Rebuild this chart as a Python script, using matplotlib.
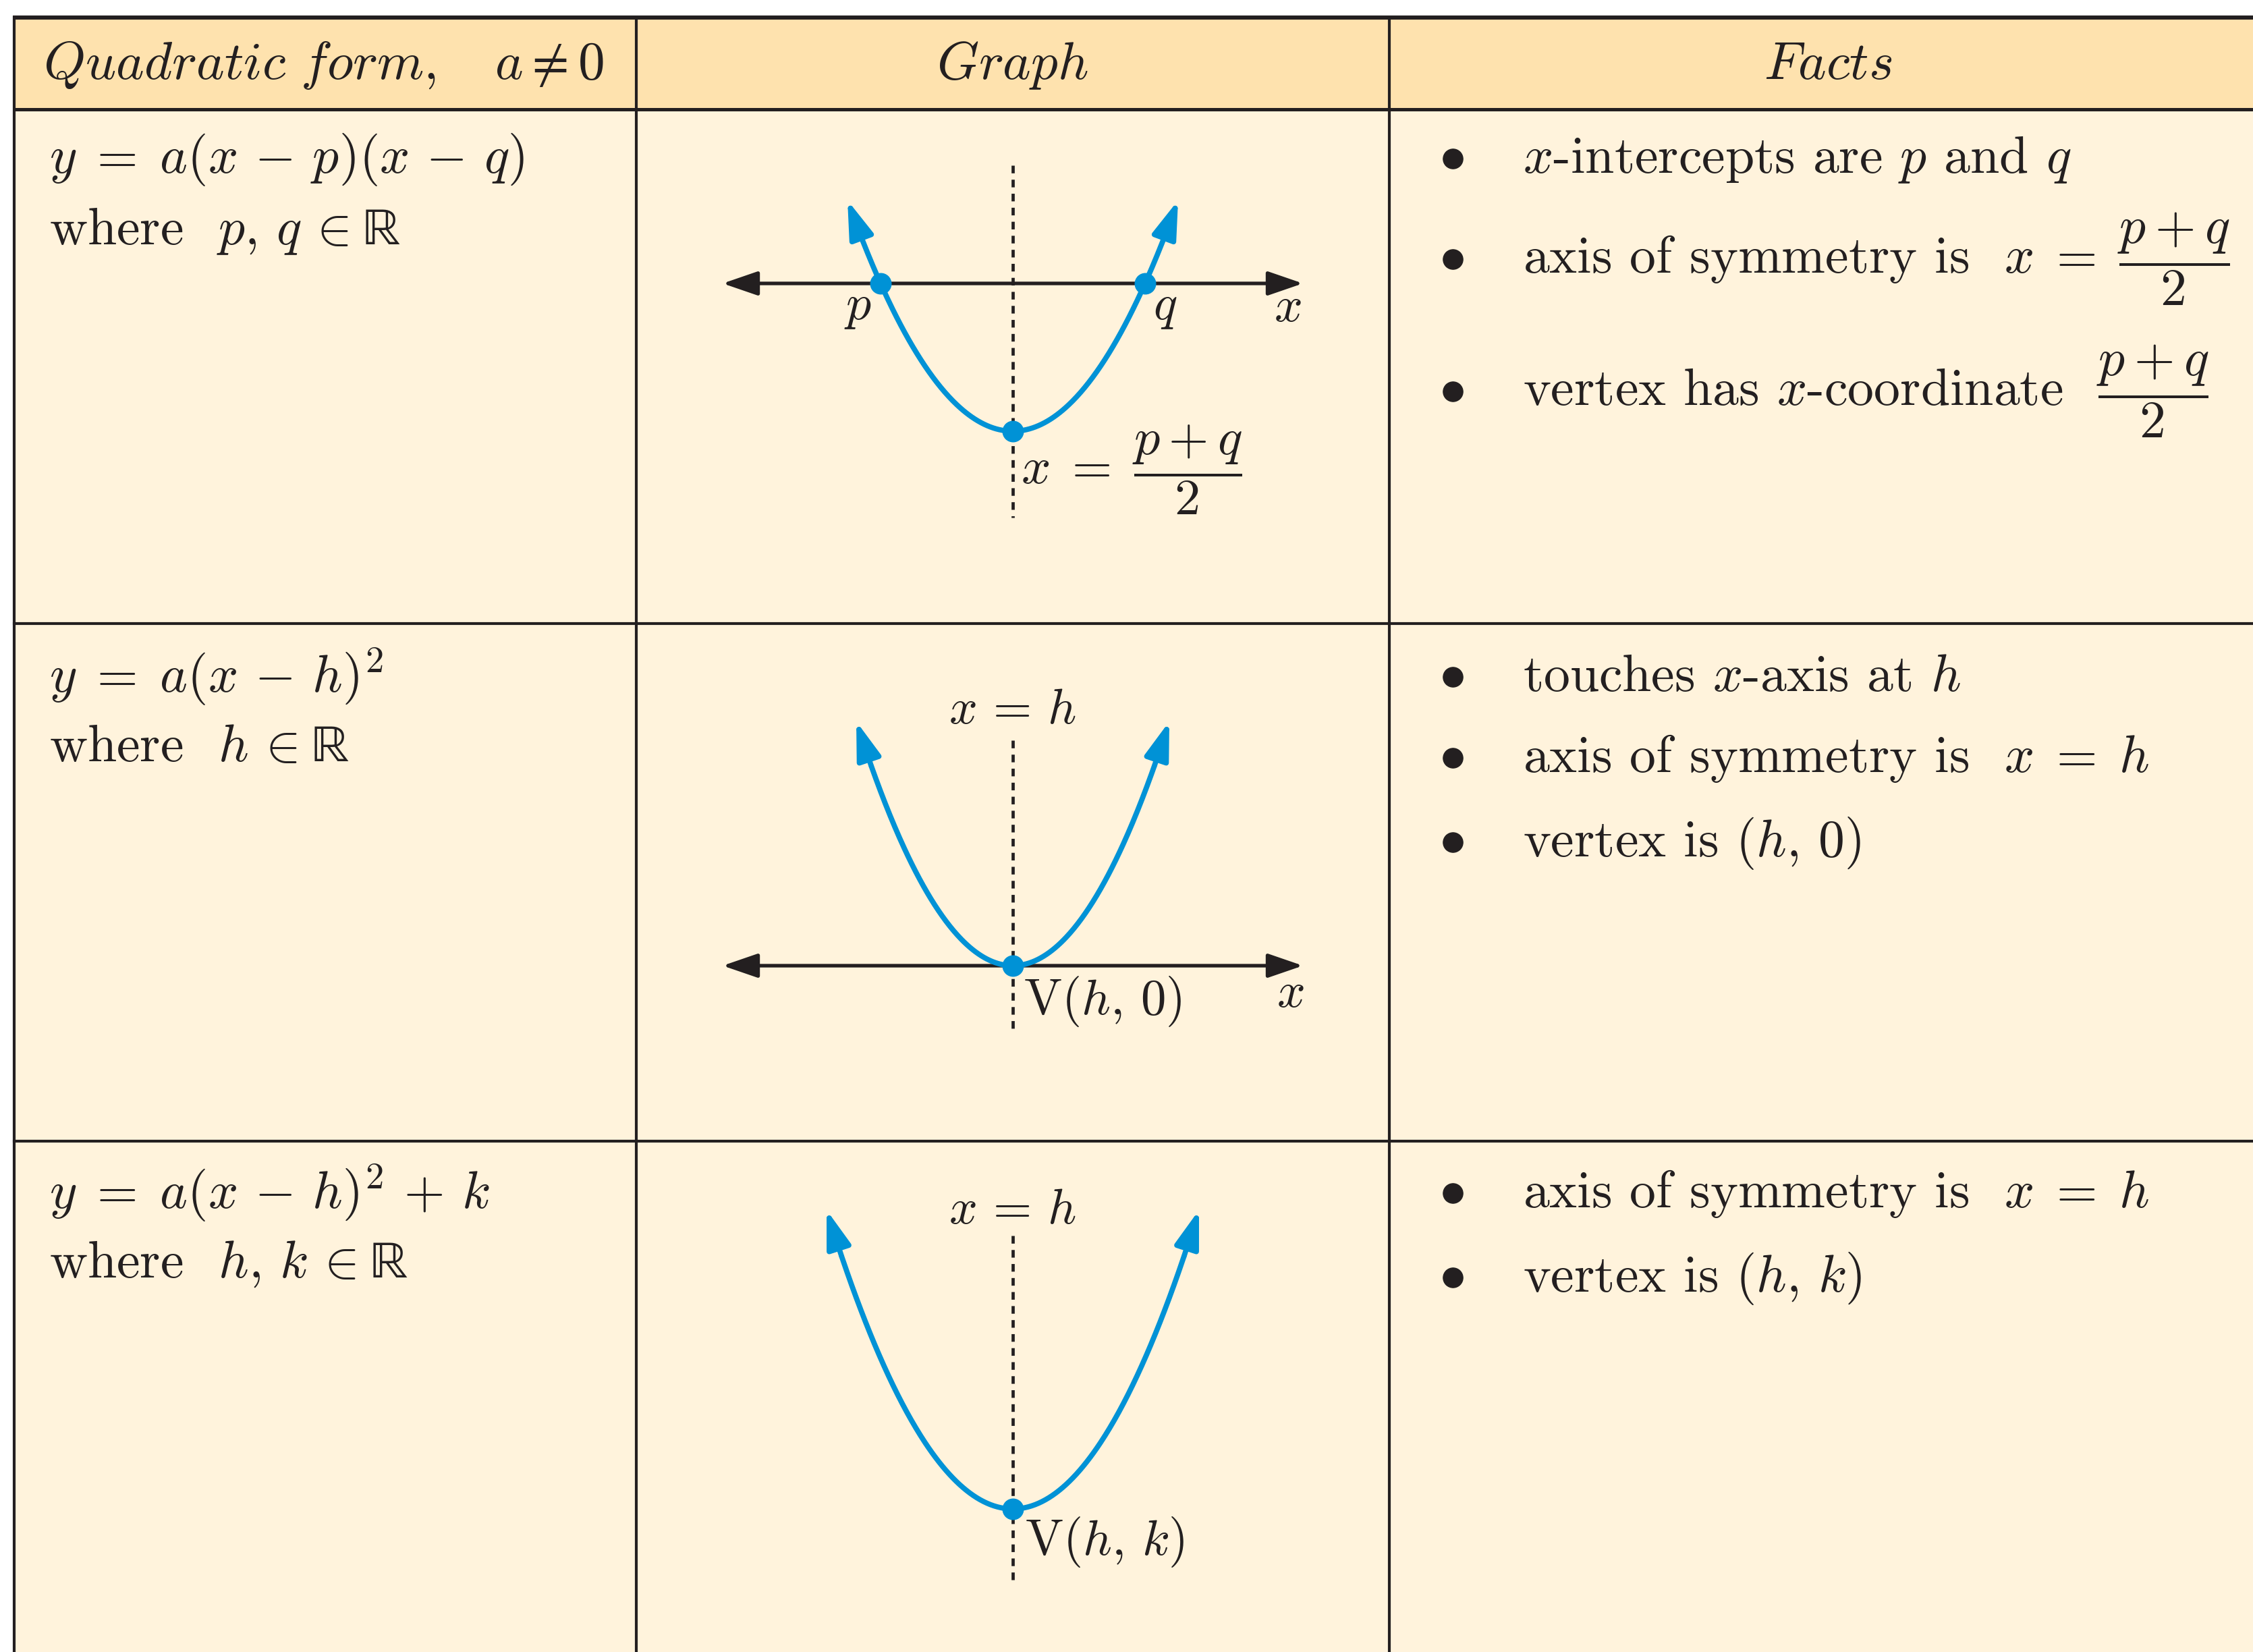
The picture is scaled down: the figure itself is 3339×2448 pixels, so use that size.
import numpy as np
import matplotlib
matplotlib.use("Agg")
import matplotlib.pyplot as plt
from matplotlib.patches import Rectangle

plt.rcParams['mathtext.fontset'] = 'cm'
plt.rcParams['font.family'] = ['cmr10', 'DejaVu Serif']
plt.rcParams['axes.unicode_minus'] = False

# ---------------- content ----------------
headers = [r'$\mathit{Quadratic\ form,}\quad a \neq 0$', r'$\mathit{Graph}$', r'$\mathit{Facts}$']
forms = [r'$y\;=\;a(x\,-\,p)(x\,-\,q)$', r'$y\;=\;a(x\,-\,h)^2$', r'$y\;=\;a(x\,-\,h)^2\,+\,k$']
wheres = [r'where  $p,\,q\,\in$', r'where  $h\,\in$', r'where  $h,\,k\,\in$']
reals = 'ℝ'
facts_row1 = [r'$x$-intercepts are $p$ and $q$',
              r'axis of symmetry is  $x\;=\;\dfrac{p+q}{2}$',
              r'vertex has $x$-coordinate  $\dfrac{p+q}{2}$']
facts_row2 = [r'touches $x$-axis at $h$',
              r'axis of symmetry is  $x\;=\;h$',
              r'vertex is $(h,\,0)$']
facts_row3 = [r'axis of symmetry is  $x\;=\;h$',
              r'vertex is $(h,\,k)$']
facts = [facts_row1, facts_row2, facts_row3]

# graph parameters (graph units, 1 unit = 100 px)
g1_roots = [-1.96, 1.96]          # p, q
g1_a = 0.57
g1_tip = 2.45
g2_a = 0.6726
g2_tip = 2.32
g3_a = 0.5815
g3_tip = 2.76
axis_half = 4.30
g1_labels = ['$p$', '$q$', '$x$']

# ---------------- layout / style ----------------
W, H = 3339, 2448
DPI = 100
DARK = '#231F20'
BLUE = '#0092D6'
HEAD = '#FEE2AE'
BODY = '#FFF3DC'
FS = 56
FS_G = 53

top_y, head_y, r1_y, r2_y = 26, 162, 924, 1691
xl, c1, c2 = 21, 943, 2059

fig = plt.figure(figsize=(W / DPI, H / DPI), dpi=DPI)
ax = fig.add_axes([0, 0, 1, 1])
ax.set_xlim(0, W)
ax.set_ylim(H, 0)
ax.axis('off')
renderer = fig.canvas.get_renderer()

ax.add_patch(Rectangle((xl, top_y), W - xl, head_y - top_y, facecolor=HEAD, edgecolor='none', zorder=0))
ax.add_patch(Rectangle((xl, head_y), W - xl, H - head_y, facecolor=BODY, edgecolor='none', zorder=0))

ax.plot([xl - 2, W], [top_y, top_y], color=DARK, lw=4.4, solid_capstyle='butt', zorder=3)
ax.plot([xl, W], [head_y, head_y], color=DARK, lw=3.6, zorder=3)
for yy in (r1_y, r2_y):
    ax.plot([xl, W], [yy, yy], color=DARK, lw=3.0, zorder=3)
for xx in (xl, c1, c2):
    ax.plot([xx, xx], [top_y, H], color=DARK, lw=3.0, zorder=3)

# headers
head_x = [480, 1501, 2709]
for hx, ht in zip(head_x, headers):
    ax.text(hx, 117, ht, fontsize=FS + 1, ha='center', va='baseline', color=DARK)

# first column
form_base = [256, 1026, 1791]
where_base = [362, 1128, 1893]
for f, w, yb, yw in zip(forms, wheres, form_base, where_base):
    ax.text(73, yb, f, fontsize=FS, ha='left', va='baseline', color=DARK)
    tw = ax.text(73, yw, w, fontsize=FS, ha='left', va='baseline', color=DARK)
    bb = tw.get_window_extent(renderer)
    x_end = ax.transData.inverted().transform((bb.x1, 0))[0]
    ax.text(x_end + 20, yw, reals, fontsize=FS, ha='left', va='baseline', color=DARK,
            family=['STIXGeneral', 'DejaVu Serif'])

# facts column
fact_base = [[256, 405, 601], [1024, 1144, 1269], [1789, 1914]]
for row, bases in zip(facts, fact_base):
    for txt, yb in zip(row, bases):
        ax.plot([2153], [yb - 21], marker='o', ms=21, color=DARK, zorder=4)
        ax.text(2257, yb, txt, fontsize=FS, ha='left', va='baseline', color=DARK)


# ---------------- graphs ----------------
U = 100.0


def graph_axes(cell_top, cell_bottom, ox, oy):
    g = fig.add_axes([c1 / W, 1 - cell_bottom / H, (c2 - c1) / W, (cell_bottom - cell_top) / H])
    g.set_xlim((c1 - ox) / U, (c2 - ox) / U)
    g.set_ylim((oy - cell_bottom) / U, (oy - cell_top) / U)
    g.axis('off')
    g.patch.set_alpha(0)
    return g


def x_axis(g):
    g.annotate('', xy=(axis_half, 0), xytext=(-axis_half, 0),
               arrowprops=dict(arrowstyle='<|-|>,head_length=1.6,head_width=0.55', mutation_scale=20,
                               color=DARK, lw=3.8, shrinkA=0, shrinkB=0), zorder=2)


def parabola(g, f, tip):
    inner = tip - 0.22
    xs = np.linspace(-inner, inner, 300)
    g.plot(xs, f(xs), color=BLUE, lw=5.6, solid_capstyle='butt', zorder=3)
    for s in (-1, 1):
        g.annotate('', xy=(s * tip, f(s * tip)), xytext=(s * inner, f(s * inner)),
                   arrowprops=dict(arrowstyle='-|>,head_length=1.7,head_width=0.55', mutation_scale=20,
                                   color=BLUE, lw=5.6, shrinkA=0, shrinkB=0), zorder=3)


def dotted(g, y0, y1):
    g.plot([0, 0], [y0, y1], color=DARK, lw=3.4, linestyle=(0, (2.4, 2.0)), zorder=2)


# graph 1
g = graph_axes(head_y, r1_y, 1501, 420)
p, q = g1_roots
f1 = lambda x: g1_a * (x - p) * (x - q)
dotted(g, 1.75, -3.47)
x_axis(g)
parabola(g, f1, g1_tip)
g.plot([p, q, (p + q) / 2], [0, 0, f1((p + q) / 2)], 'o', ms=22, color=BLUE, zorder=5)
g.text(p - 0.34, -0.38, g1_labels[0], fontsize=FS_G, ha='center', va='center', color=DARK)
g.text(q + 0.30, -0.38, g1_labels[1], fontsize=FS_G, ha='center', va='center', color=DARK)
g.text(4.07, -0.38, g1_labels[2], fontsize=FS_G, ha='center', va='center', color=DARK)
g.text(0.12, -2.76, r'$x\;=\;\dfrac{p+q}{2}$', fontsize=FS_G + 2, ha='left', va='center', color=DARK)

# graph 2
g = graph_axes(r1_y, r2_y, 1501, 1431)
f2 = lambda x: g2_a * x ** 2
dotted(g, 3.34, -0.98)
x_axis(g)
parabola(g, f2, g2_tip)
g.plot([0], [f2(0)], 'o', ms=22, color=BLUE, zorder=5)
g.text(0, 3.77, r'$x\,=\,h$', fontsize=FS_G, ha='center', va='center', color=DARK)
g.text(0.16, -0.53, r'$\mathrm{V}(h,\,0)$', fontsize=FS_G + 1, ha='left', va='center', color=DARK)
g.text(4.11, -0.43, g1_labels[2], fontsize=FS_G, ha='center', va='center', color=DARK)

# graph 3
g = graph_axes(r2_y, H, 1501, 2236)
f3 = lambda x: g3_a * x ** 2
dotted(g, 4.05, -1.06)
parabola(g, f3, g3_tip)
g.plot([0], [f3(0)], 'o', ms=22, color=BLUE, zorder=5)
g.text(0, 4.41, r'$x\,=\,h$', fontsize=FS_G, ha='center', va='center', color=DARK)
g.text(0.18, -0.49, r'$\mathrm{V}(h,\,k)$', fontsize=FS_G + 1, ha='left', va='center', color=DARK)

fig.savefig('out.png', dpi=DPI, facecolor='white')
